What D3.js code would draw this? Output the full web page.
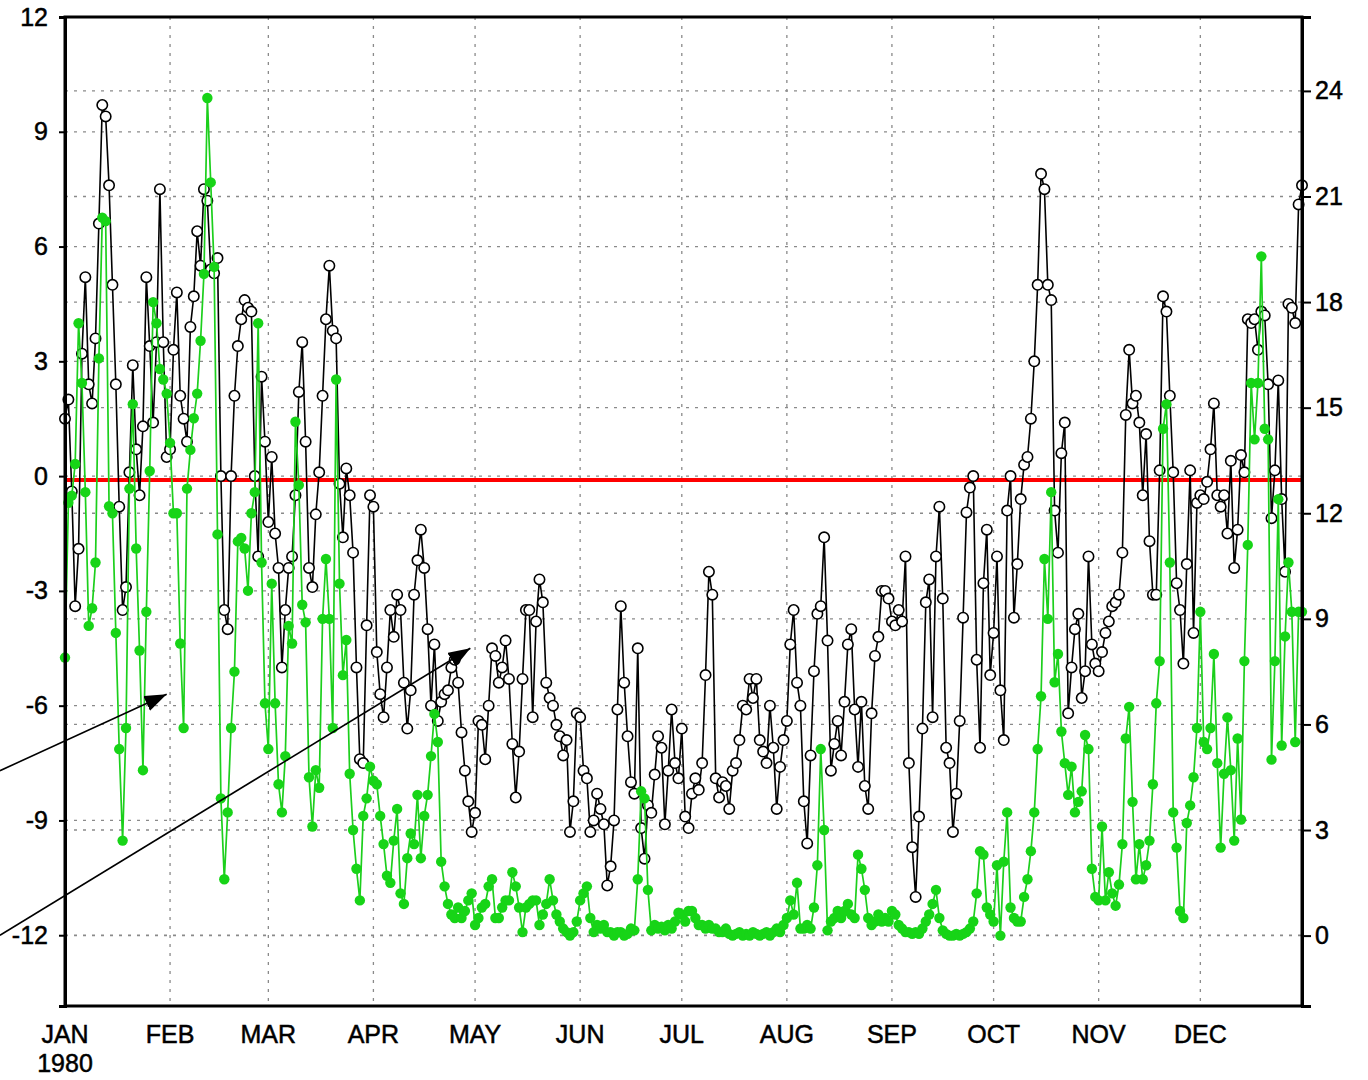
<!DOCTYPE html>
<html>
<head>
<meta charset="utf-8">
<script src="https://cdn.jsdelivr.net/npm/d3@7"></script>
<style>
  body { margin: 0; background: #fff; }
  text { font-family: "Liberation Sans", Arial, sans-serif; fill: #000; stroke: #000; stroke-width: 0.5px; }
</style>
</head>
<body>
<div id="chart"></div>
<script>
// daily values for 1980 (leap year), black series on the left axis
var blackJan = [1.5, 2.0, -0.4, -3.4, -1.9, 3.2, 5.2, 2.4, 1.9, 3.6, 6.6, 9.7, 9.4, 7.6, 5.0, 2.4, -0.8, -3.5, -2.9, 0.1, 2.9, 0.7, -0.5, 1.3, 5.2, 3.4, 1.4, 3.5, 7.5, 3.5, 0.5];
var blackFeb = [0.7, 3.3, 4.8, 2.1, 1.5, 0.9, 3.9, 4.7, 6.4, 5.5, 7.5, 7.2, 5.4, 5.3, 5.7, 0.0, -3.5, -4.0, 0.0, 2.1, 3.4, 4.1, 4.6, 4.4, 4.3, 0.0, -2.1, 2.6, 0.9];
var blackMar = [-1.2, 0.5, -1.5, -2.4, -5.0, -3.5, -2.4, -2.1, -0.5, 2.2, 3.5, 0.9, -2.4, -2.9, -1.0, 0.1, 2.1, 4.1, 5.5, 3.8, 3.6, -0.2, -1.6, 0.2, -0.5, -2.0, -5.0, -7.4, -7.5, -3.9, -0.5];
var blackApr = [-0.8, -4.6, -5.7, -6.3, -5.0, -3.5, -4.2, -3.1, -3.5, -5.4, -6.6, -5.6, -3.1, -2.2, -1.4, -2.4, -4.0, -6.0, -4.4, -6.4, -5.9, -5.7, -5.6, -5.0, -4.8, -5.4, -6.7, -7.7, -8.5, -9.3];
var blackMay = [-8.8, -6.4, -6.5, -7.4, -6.0, -4.5, -4.7, -5.4, -5.0, -4.3, -5.3, -7.0, -8.4, -7.2, -5.3, -3.5, -3.5, -6.3, -3.8, -2.7, -3.3, -5.4, -5.8, -6.0, -6.5, -6.8, -7.3, -6.9, -9.3, -8.5, -6.2];
var blackJun = [-6.3, -7.7, -7.9, -9.3, -9.0, -8.3, -8.7, -9.1, -10.7, -10.2, -9.0, -6.1, -3.4, -5.4, -6.8, -8.0, -8.3, -4.5, -9.2, -10.0, -8.6, -8.8, -7.8, -6.8, -7.1, -9.1, -7.7, -6.1, -7.5, -7.9];
var blackJul = [-6.6, -8.9, -9.2, -8.3, -7.9, -8.2, -7.5, -5.2, -2.5, -3.1, -7.9, -8.4, -8.0, -8.1, -8.7, -7.7, -7.5, -6.9, -6.0, -6.1, -5.3, -5.8, -5.3, -6.9, -7.2, -7.5, -6.0, -7.1, -8.7, -7.6, -6.9];
var blackAug = [-6.4, -4.4, -3.5, -5.4, -6.0, -8.5, -9.6, -7.3, -5.1, -3.6, -3.4, -1.6, -4.3, -7.7, -7.0, -6.4, -7.3, -5.9, -4.4, -4.0, -6.1, -7.6, -5.9, -8.1, -8.7, -6.2, -4.7, -4.2, -3.0, -3.0, -3.2];
var blackSep = [-3.8, -3.9, -3.5, -3.8, -2.1, -7.5, -9.7, -11.0, -8.9, -6.6, -3.3, -2.7, -6.3, -2.1, -0.8, -3.2, -7.1, -7.5, -9.3, -8.3, -6.4, -3.7, -0.95, -0.3, 0.0, -4.8, -7.1, -2.8, -1.4, -5.2];
var blackOct = [-4.1, -2.1, -5.6, -6.9, -0.9, 0.0, -3.7, -2.3, -0.6, 0.3, 0.5, 1.5, 3.0, 5.0, 7.9, 7.5, 5.0, 4.6, -0.9, -2.0, 0.6, 1.4, -6.2, -5.0, -4.0, -3.6, -5.8, -5.1, -2.1, -4.4, -4.9];
var blackNov = [-5.1, -4.6, -4.1, -3.8, -3.4, -3.3, -3.1, -2.0, 1.6, 3.3, 1.9, 2.1, 1.4, -0.5, 1.1, -1.7, -3.1, -3.1, 0.15, 4.7, 4.3, 2.1, 0.1, -2.8, -3.5, -4.9, -2.3, 0.15, -4.1, -0.7];
var blackDec = [-0.5, -0.6, -0.15, 0.7, 1.9, -0.5, -0.8, -0.5, -1.5, 0.4, -2.4, -1.4, 0.55, 0.1, 4.1, 4.0, 4.1, 3.3, 4.3, 4.2, 2.4, -1.1, 0.15, 2.5, -0.6, -2.5, 4.5, 4.4, 4.0, 7.1, 7.6];

// green series on the right axis
var greenJan = [7.9, 12.3, 12.5, 13.4, 17.4, 15.7, 12.6, 8.8, 9.3, 10.6, 16.4, 20.4, 20.3, 12.2, 12.0, 8.6, 5.3, 2.7, 5.9, 12.7, 15.1, 11.0, 8.1, 4.7, 9.2, 13.2, 18.0, 17.4, 16.1, 15.8, 15.4];
var greenFeb = [14.0, 12.0, 12.0, 8.3, 5.9, 12.7, 13.8, 14.7, 15.4, 16.9, 18.8, 23.8, 21.4, 19.0, 11.4, 3.9, 1.6, 3.5, 5.9, 7.5, 11.2, 11.3, 11.0, 9.8, 12.0, 12.6, 17.4, 10.6, 6.6];
var greenMar = [5.3, 10.0, 6.6, 4.3, 3.5, 5.1, 8.8, 8.3, 14.6, 12.8, 9.4, 8.9, 4.5, 3.1, 4.7, 4.2, 9.0, 10.7, 9.0, 5.9, 15.8, 10.0, 7.4, 8.4, 4.6, 3.0, 1.9, 1.0, 3.4, 3.9, 4.8];
var greenApr = [4.4, 4.3, 3.4, 2.6, 1.7, 1.5, 2.7, 3.6, 1.2, 0.9, 2.2, 2.9, 2.6, 4.0, 2.2, 3.4, 4.0, 5.1, 6.3, 5.5, 2.1, 1.4, 0.9, 0.6, 0.5, 0.8, 0.5, 0.7, 1.0, 1.2];
var greenMay = [0.3, 0.5, 0.8, 0.9, 1.4, 1.6, 0.5, 0.5, 0.8, 1.0, 1.0, 1.8, 1.4, 0.8, 0.1, 0.8, 0.9, 1.0, 1.0, 0.3, 0.6, 0.9, 1.6, 1.0, 0.6, 0.4, 0.2, 0.1, 0.0, 0.1, 0.4];
var greenJun = [1.0, 1.2, 1.4, 0.5, 0.1, 0.3, 0.2, 0.3, 0.1, 0.1, 0.0, 0.1, 0.1, 0.0, 0.05, 0.2, 0.15, 1.6, 4.1, 3.9, 1.3, 0.15, 0.3, 0.2, 0.25, 0.15, 0.3, 0.2, 0.4, 0.65];
var greenJul = [0.6, 0.4, 0.7, 0.7, 0.5, 0.3, 0.3, 0.2, 0.3, 0.2, 0.2, 0.1, 0.1, 0.2, 0.05, 0.0, 0.05, 0.1, 0.0, 0.05, 0.0, 0.1, 0.05, 0.0, 0.05, 0.1, 0.0, 0.1, 0.2, 0.1, 0.3];
var greenAug = [0.5, 1.0, 0.6, 1.5, 0.2, 0.2, 0.3, 0.2, 0.8, 2.0, 5.3, 3.0, 0.15, 0.4, 0.5, 0.7, 0.5, 0.7, 0.9, 0.6, 0.5, 2.3, 1.9, 1.3, 0.5, 0.3, 0.4, 0.6, 0.4, 0.5, 0.4];
var greenSep = [0.7, 0.6, 0.3, 0.2, 0.1, 0.1, 0.05, 0.1, 0.05, 0.2, 0.4, 0.6, 0.9, 1.3, 0.5, 0.15, 0.05, 0.0, 0.0, 0.05, 0.0, 0.05, 0.1, 0.2, 0.4, 1.2, 2.4, 2.3, 0.8, 0.6];
var greenOct = [0.4, 2.0, 0.0, 2.1, 3.5, 0.8, 0.5, 0.4, 0.4, 1.1, 1.6, 2.4, 3.5, 5.3, 6.8, 10.7, 9.0, 12.6, 7.2, 8.0, 5.8, 4.9, 4.0, 4.8, 3.5, 3.8, 4.1, 5.7, 5.3, 1.9, 1.1];
var greenNov = [1.0, 3.1, 1.0, 1.8, 1.2, 0.85, 1.45, 2.6, 5.6, 6.5, 3.8, 1.6, 2.6, 1.6, 2.0, 2.7, 4.3, 6.6, 7.8, 14.4, 15.1, 10.6, 3.5, 2.5, 0.7, 0.5, 3.2, 3.7, 4.5, 5.9];
var greenDec = [9.2, 5.5, 5.3, 5.9, 8.0, 4.9, 2.5, 4.6, 6.2, 4.7, 2.7, 5.6, 3.3, 7.8, 11.1, 15.7, 14.1, 15.7, 19.3, 14.4, 14.1, 5.0, 7.8, 12.4, 5.4, 8.5, 10.6, 9.2, 5.5, 9.2, 9.2];

var monthLabels = ["JAN", "FEB", "MAR", "APR", "MAY", "JUN", "JUL", "AUG", "SEP", "OCT", "NOV", "DEC"];
var yearLabel = "1980";
var leftTicks = [-12, -9, -6, -3, 0, 3, 6, 9, 12];
var rightTicks = [0, 3, 6, 9, 12, 15, 18, 21, 24];
var refLevel = -0.1;

// arrows drawn in data space: [day index, left-axis value]
var arrowFrom = [[-19.2, -7.7], [-19.2, -12.0]];
var arrowTo = [[30, -5.7], [119.6, -4.5]];

var black = [].concat(blackJan, blackFeb, blackMar, blackApr, blackMay, blackJun,
  blackJul, blackAug, blackSep, blackOct, blackNov, blackDec);
var green = [].concat(greenJan, greenFeb, greenMar, greenApr, greenMay, greenJun,
  greenJul, greenAug, greenSep, greenOct, greenNov, greenDec);

var day0 = Date.UTC(1980, 0, 1);
function dayDate(i) { return new Date(day0 + i * 864e5); }

var blackData = black.map(function(v, i) { return {date: dayDate(i), v: v}; });
var greenData = green.map(function(v, i) { return {date: dayDate(i), v: v}; });

var margin = {top: 17, right: 66, bottom: 74, left: 65},
    width = 1368 - margin.left - margin.right,
    height = 1080 - margin.top - margin.bottom;

var svg = d3.select("#chart")
  .append("svg")
  .attr("width", 1368)
  .attr("height", 1080)
  .append("g")
  .attr("transform", "translate(" + margin.left + "," + margin.top + ")");

var x = d3.scaleUtc()
  .domain([dayDate(0), dayDate(365)])
  .range([0, width]);

var yL = d3.scaleLinear()
  .domain([-13.85, 12])
  .range([height, 0]);

var yR = d3.scaleLinear()
  .domain([-2, 26.1])
  .range([height, 0]);

var monthStarts = d3.utcMonth.range(dayDate(0), dayDate(366));

// dotted grid
var grid = svg.append("g")
  .attr("stroke", "#8a8a8a")
  .attr("stroke-width", 1.3)
  .attr("stroke-dasharray", "3,6");

grid.selectAll(".vgrid")
  .data(monthStarts.slice(1))
  .enter()
  .append("line")
    .attr("x1", function(d) { return x(d); })
    .attr("x2", function(d) { return x(d); })
    .attr("y1", 0)
    .attr("y2", height);

grid.selectAll(".lgrid")
  .data(leftTicks.filter(function(d) { return d < 12; }))
  .enter()
  .append("line")
    .attr("x1", 0)
    .attr("x2", width)
    .attr("y1", function(d) { return yL(d); })
    .attr("y2", function(d) { return yL(d); });

grid.selectAll(".rgrid")
  .data(rightTicks)
  .enter()
  .append("line")
    .attr("x1", 0)
    .attr("x2", width)
    .attr("y1", function(d) { return yR(d); })
    .attr("y2", function(d) { return yR(d); });

// red reference line
svg.append("line")
  .attr("x1", 0)
  .attr("x2", width)
  .attr("y1", yL(refLevel))
  .attr("y2", yL(refLevel))
  .attr("stroke", "#ff0000")
  .attr("stroke-width", 4);

// black series
var lineL = d3.line()
  .x(function(d) { return x(d.date); })
  .y(function(d) { return yL(d.v); });

svg.append("path")
  .datum(blackData)
  .attr("fill", "none")
  .attr("stroke", "#000")
  .attr("stroke-width", 1.6)
  .attr("d", lineL);

svg.append("g")
  .selectAll("circle")
  .data(blackData)
  .enter()
  .append("circle")
    .attr("cx", function(d) { return x(d.date); })
    .attr("cy", function(d) { return yL(d.v); })
    .attr("r", 5.2)
    .attr("fill", "#fff")
    .attr("stroke", "#000")
    .attr("stroke-width", 1.6);

// green series
var lineR = d3.line()
  .x(function(d) { return x(d.date); })
  .y(function(d) { return yR(d.v); });

svg.append("path")
  .datum(greenData)
  .attr("fill", "none")
  .attr("stroke", "#1ccf1c")
  .attr("stroke-width", 1.7)
  .attr("d", lineR);

svg.append("g")
  .selectAll("circle")
  .data(greenData)
  .enter()
  .append("circle")
    .attr("cx", function(d) { return x(d.date); })
    .attr("cy", function(d) { return yR(d.v); })
    .attr("r", 5.2)
    .attr("fill", "#17d417");

// frame
svg.append("rect")
  .attr("width", width)
  .attr("height", height)
  .attr("fill", "none")
  .attr("stroke", "#000")
  .attr("stroke-width", 3);

// axes
var leftAxis = svg.append("g")
  .call(d3.axisLeft(yL).tickValues(leftTicks).tickSize(6).tickPadding(11)
    .tickFormat(function(d) { return String(d); }));

var rightAxis = svg.append("g")
  .attr("transform", "translate(" + width + ",0)")
  .call(d3.axisRight(yR).tickValues(rightTicks).tickSize(9).tickPadding(4)
    .tickFormat(function(d) { return String(d); }));

[leftAxis, rightAxis].forEach(function(a) {
  a.select(".domain").attr("stroke-width", 3);
  a.selectAll(".tick line").attr("stroke-width", 2);
  a.selectAll("text")
    .style("font-family", "'Liberation Sans', Arial, sans-serif")
    .style("font-size", "25px");
});

// month labels
svg.append("g")
  .selectAll("text")
  .data(monthStarts)
  .enter()
  .append("text")
    .attr("x", function(d) { return x(d); })
    .attr("y", height + 37)
    .attr("text-anchor", "middle")
    .style("font-size", "25px")
    .text(function(d) { return monthLabels[d.getUTCMonth()]; });

svg.append("text")
  .attr("x", x(monthStarts[0]))
  .attr("y", height + 66)
  .attr("text-anchor", "middle")
  .style("font-size", "25px")
  .text(yearLabel);

// annotation arrows
var defs = svg.append("defs");
defs.append("marker")
  .attr("id", "head")
  .attr("markerUnits", "userSpaceOnUse")
  .attr("markerWidth", 24)
  .attr("markerHeight", 18)
  .attr("refX", 22)
  .attr("refY", 8)
  .attr("orient", "auto")
  .append("path")
    .attr("d", "M0,0 L22,8 L0,16 Z")
    .attr("fill", "#000");

svg.append("g")
  .selectAll("line")
  .data(arrowFrom)
  .enter()
  .append("line")
    .attr("x1", function(d) { return x(dayDate(d[0])); })
    .attr("y1", function(d) { return yL(d[1]); })
    .attr("x2", function(d, i) { return x(dayDate(arrowTo[i][0])); })
    .attr("y2", function(d, i) { return yL(arrowTo[i][1]); })
    .attr("stroke", "#000")
    .attr("stroke-width", 1.6)
    .attr("marker-end", "url(#head)");
</script>
</body>
</html>
